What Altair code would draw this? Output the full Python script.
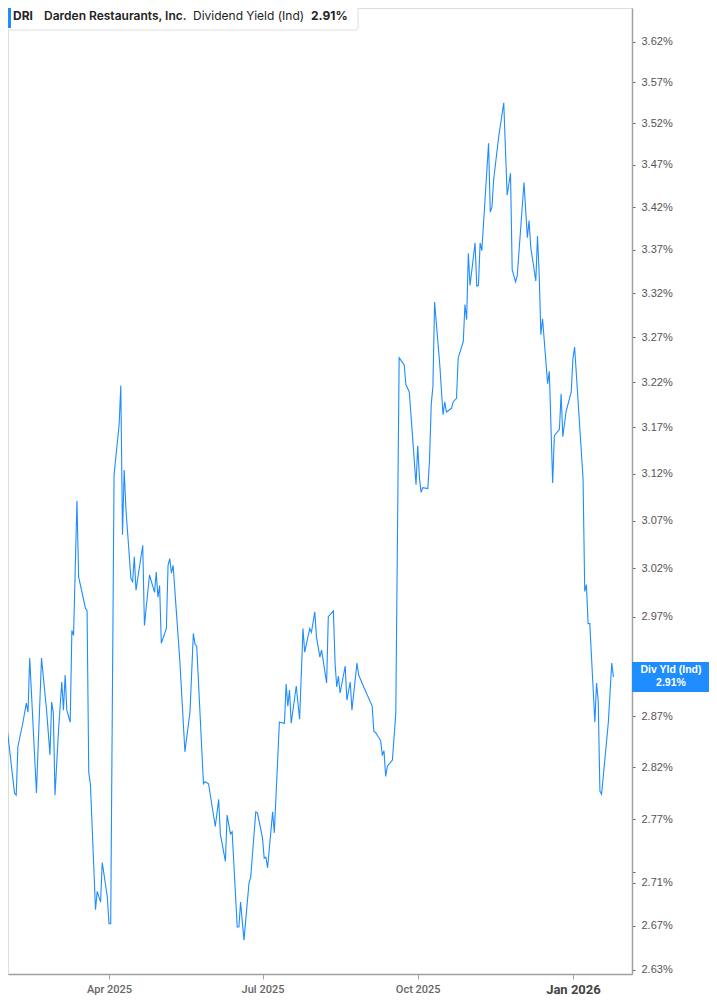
import altair as alt
import pandas as pd

TICKER = "DRI"
COMPANY = "Darden Restaurants, Inc."
METRIC = "Dividend Yield (Ind)"
BOX_TITLE = "Div Yld (Ind)"

dates = [
    "2025-01-26", "2025-01-27", "2025-01-29", "2025-01-30", "2025-02-04", "2025-02-05", "2025-02-06",
    "2025-02-09", "2025-02-11", "2025-02-12", "2025-02-13", "2025-02-17", "2025-02-18", "2025-02-20",
    "2025-02-23", "2025-02-25", "2025-02-26", "2025-02-27", "2025-02-28", "2025-03-02", "2025-03-04",
    "2025-03-05", "2025-03-06", "2025-03-07", "2025-03-09", "2025-03-10", "2025-03-11", "2025-03-13",
    "2025-03-14", "2025-03-18", "2025-03-19", "2025-03-20", "2025-03-21", "2025-03-24", "2025-03-25",
    "2025-03-27", "2025-03-28", "2025-03-31", "2025-04-01", "2025-04-02", "2025-04-04", "2025-04-07",
    "2025-04-08", "2025-04-09", "2025-04-10", "2025-04-11", "2025-04-14", "2025-04-15", "2025-04-16",
    "2025-04-17", "2025-04-21", "2025-04-22", "2025-04-25", "2025-04-28", "2025-04-29", "2025-04-30",
    "2025-05-01", "2025-05-02", "2025-05-05", "2025-05-06", "2025-05-07", "2025-05-08", "2025-05-09",
    "2025-05-13", "2025-05-16", "2025-05-19", "2025-05-21", "2025-05-22", "2025-05-23", "2025-05-27",
    "2025-05-28", "2025-05-30", "2025-06-03", "2025-06-05", "2025-06-06", "2025-06-09", "2025-06-10",
    "2025-06-12", "2025-06-13", "2025-06-16", "2025-06-17", "2025-06-18", "2025-06-20", "2025-06-23",
    "2025-06-24", "2025-06-27", "2025-06-28", "2025-07-01", "2025-07-02", "2025-07-03", "2025-07-04",
    "2025-07-07", "2025-07-08", "2025-07-11", "2025-07-14", "2025-07-15", "2025-07-16", "2025-07-17",
    "2025-07-18", "2025-07-21", "2025-07-23", "2025-07-25", "2025-07-26", "2025-07-29", "2025-07-30",
    "2025-08-01", "2025-08-02", "2025-08-04", "2025-08-05", "2025-08-08", "2025-08-09", "2025-08-12",
    "2025-08-13", "2025-08-14", "2025-08-15", "2025-08-16", "2025-08-19", "2025-08-20", "2025-08-22",
    "2025-08-23", "2025-08-26", "2025-08-27", "2025-08-30", "2025-09-04", "2025-09-05", "2025-09-06",
    "2025-09-09", "2025-09-10", "2025-09-11", "2025-09-12", "2025-09-13", "2025-09-16", "2025-09-18",
    "2025-09-20", "2025-09-23", "2025-09-24", "2025-09-25", "2025-09-26", "2025-09-30", "2025-10-01",
    "2025-10-02", "2025-10-03", "2025-10-04", "2025-10-07", "2025-10-08", "2025-10-09", "2025-10-10",
    "2025-10-11", "2025-10-14", "2025-10-16", "2025-10-17", "2025-10-18", "2025-10-21", "2025-10-22",
    "2025-10-24", "2025-10-25", "2025-10-28", "2025-10-29", "2025-10-30", "2025-10-31", "2025-11-01",
    "2025-11-04", "2025-11-05", "2025-11-06", "2025-11-07", "2025-11-08", "2025-11-12", "2025-11-13",
    "2025-11-14", "2025-11-15", "2025-11-18", "2025-11-21", "2025-11-23", "2025-11-25", "2025-11-26",
    "2025-11-28", "2025-11-29", "2025-12-03", "2025-12-05", "2025-12-06", "2025-12-07", "2025-12-10",
    "2025-12-11", "2025-12-12", "2025-12-13", "2025-12-14", "2025-12-17", "2025-12-18", "2025-12-20",
    "2025-12-21", "2025-12-24", "2025-12-25", "2025-12-26", "2025-12-28", "2025-12-31", "2026-01-01",
    "2026-01-02", "2026-01-07", "2026-01-08", "2026-01-09", "2026-01-10", "2026-01-11", "2026-01-14",
    "2026-01-15", "2026-01-16", "2026-01-17", "2026-01-18", "2026-01-22", "2026-01-24", "2026-01-25",
]

yields = [
    2.909, 2.909, 2.854, 2.867, 2.795, 2.793, 2.840,
    2.864, 2.883, 2.874, 2.928, 2.795, 2.840, 2.928,
    2.876, 2.832, 2.884, 2.873, 2.793, 2.854, 2.904,
    2.876, 2.911, 2.876, 2.864, 2.956, 2.951, 3.091,
    3.011, 2.979, 2.976, 2.815, 2.803, 2.685, 2.702,
    2.692, 2.729, 2.697, 2.672, 2.672, 3.119, 3.173,
    3.216, 3.055, 3.124, 3.083, 3.009, 3.006, 3.032,
    2.997, 3.044, 2.961, 3.013, 2.995, 3.016, 2.990,
    3.002, 2.943, 2.958, 3.023, 3.030, 3.015, 3.023,
    2.925, 2.835, 2.874, 2.953, 2.942, 2.940, 2.804,
    2.806, 2.804, 2.763, 2.789, 2.756, 2.730, 2.774,
    2.756, 2.758, 2.669, 2.669, 2.692, 2.657, 2.710,
    2.715, 2.777, 2.776, 2.752, 2.733, 2.734, 2.724,
    2.777, 2.757, 2.864, 2.863, 2.902, 2.880, 2.896,
    2.863, 2.900, 2.867, 2.958, 2.934, 2.958, 2.954,
    2.975, 2.949, 2.929, 2.936, 2.903, 2.970, 2.976,
    2.923, 2.899, 2.910, 2.893, 2.920, 2.886, 2.904,
    2.876, 2.923, 2.911, 2.899, 2.880, 2.855, 2.854,
    2.846, 2.832, 2.836, 2.811, 2.821, 2.827, 2.873,
    3.247, 3.239, 3.217, 3.213, 3.209, 3.108, 3.150,
    3.116, 3.100, 3.105, 3.104, 3.135, 3.195, 3.215,
    3.310, 3.241, 3.184, 3.198, 3.187, 3.191, 3.198,
    3.202, 3.247, 3.265, 3.307, 3.290, 3.366, 3.329,
    3.378, 3.328, 3.329, 3.378, 3.369, 3.496, 3.414,
    3.420, 3.452, 3.504, 3.545, 3.434, 3.460, 3.347,
    3.333, 3.340, 3.449, 3.384, 3.404, 3.373, 3.334,
    3.386, 3.342, 3.273, 3.291, 3.218, 3.232, 3.110,
    3.161, 3.168, 3.207, 3.160, 3.188, 3.209, 3.246,
    3.259, 3.115, 2.996, 3.003, 2.963, 2.963, 2.864,
    2.903, 2.885, 2.797, 2.794, 2.864, 2.923, 2.909,
]

# 2.92% sits under the value box in the reference, so it is not listed
y_tick_values = [2.63, 2.67, 2.71, 2.72, 2.77, 2.82, 2.87, 2.97, 3.02, 3.07, 3.12,
                 3.17, 3.22, 3.27, 3.32, 3.37, 3.42, 3.47, 3.52, 3.57, 3.62]
x_tick_values = [(2025, 4, 1), (2025, 7, 1), (2025, 10, 1), (2026, 1, 1)]

BLUE = "#1f8cff"

df = pd.DataFrame({"date": dates, "value": yields})
last = df.tail(1).copy()
last["label"] = [f"{v:.2f}%" for v in last["value"]]
last_label = f"{yields[-1]:.2f}%"

x_scale = alt.Scale(
    type="utc",
    domain=[alt.DateTime(year=2025, month=1, date=31, hours=3, minutes=8, utc=True),
            alt.DateTime(year=2026, month=2, date=5, hours=0, minutes=29, utc=True)],
)
y_scale = alt.Scale(type="log", domain=[2.6262, 3.6626], nice=False)

x_axis = alt.Axis(
    values=[alt.DateTime(year=y, month=m, date=d, utc=True) for (y, m, d) in x_tick_values],
    format="%b %Y",
    title=None,
    grid=False,
    domainColor="#a0a0a0",
    domainWidth=1.5,
    tickColor="#a0a0a0",
    tickSize=5,
    labelPadding=4,
    labelFont="Roboto",
    labelFontSize={"condition": {"test": "utcmonth(datum.value) === 0", "value": 13}, "value": 11},
    labelFontWeight={"condition": {"test": "utcmonth(datum.value) === 0", "value": "bold"}, "value": 500},
    labelColor={"condition": {"test": "utcmonth(datum.value) === 0", "value": "#444"}, "value": "#666"},
)
y_axis = alt.Axis(
    orient="right",
    values=y_tick_values,
    labelExpr="format(datum.value, '.2f') + '%'",
    title=None,
    grid=False,
    domainColor="#a0a0a0",
    domainWidth=1.5,
    tickColor="#666",
    tickSize=3,
    labelPadding=6,
    labelFont="Liberation Sans",
    labelFontSize=11,
    labelColor="#555",
)

line = alt.Chart(df).mark_line(color=BLUE, strokeWidth=1.1, clip=True).encode(
    x=alt.X("date:T", scale=x_scale, axis=x_axis),
    y=alt.Y("value:Q", scale=y_scale, axis=y_axis),
)

box = alt.Chart(last).mark_rule(color=BLUE, strokeWidth=30).encode(
    x=alt.value(624), x2=alt.value(701), y=alt.Y("value:Q")
)
box_t1 = alt.Chart(last).mark_text(
    color="white", fontWeight="bold", fontSize=10.5, font="Liberation Sans", dy=-6.5, align="center", baseline="middle"
).encode(x=alt.value(663), y=alt.Y("value:Q"), text=alt.value(BOX_TITLE))
box_t2 = alt.Chart(last).mark_text(
    color="white", fontWeight="bold", fontSize=10.5, font="Liberation Sans", dy=6.5, align="center", baseline="middle"
).encode(x=alt.value(663), y=alt.Y("value:Q"), text="label:N")

one = pd.DataFrame({"k": [0]})
legend_box = alt.Chart(one).mark_rect(
    fill="white", stroke="#dedede", strokeWidth=1, cornerRadius=3
).encode(x=alt.value(-6), x2=alt.value(350), y=alt.value(-5), y2=alt.value(22))
accent = alt.Chart(one).mark_rect(fill=BLUE).encode(
    x=alt.value(0), x2=alt.value(3), y=alt.value(0), y2=alt.value(20)
)

def legend_text(txt, xpos, weight):
    return alt.Chart(one).mark_text(
        align="left", baseline="middle", font="Inter", fontSize=12, fontWeight=weight, color="#222"
    ).encode(x=alt.value(xpos), y=alt.value(8), text=alt.value(txt))

chart = alt.layer(
    line,
    legend_box,
    accent,
    legend_text(TICKER, 5, 700),
    legend_text(COMPANY, 36, 600),
    legend_text(METRIC, 185, 400),
    legend_text(last_label, 303, 700),
    box,
    box_t1,
    box_t2,
).properties(
    width=624,
    height=966,
    padding={"left": 0, "top": 0, "right": 77, "bottom": 21},
    autosize=alt.AutoSizeParams(type="none"),
).configure_view(strokeWidth=0).configure(background="white")

chart.save("out.html", embed_options={"renderer": "svg", "actions": False})
